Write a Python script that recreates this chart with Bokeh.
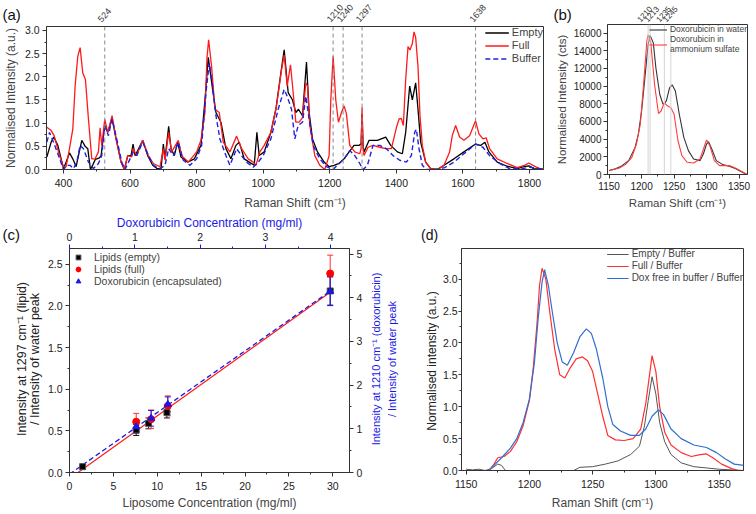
import math
import numpy as np
from bokeh.plotting import figure
from bokeh.layouts import column, row
from bokeh.models import (Range1d, LinearAxis, Span, Label, Whisker, ColumnDataSource,
                          SingleIntervalTicker, TeeHead, PrintfTickFormatter)
from bokeh.embed import file_html
from bokeh.resources import INLINE

FONT = "Liberation Sans"

# ---------------- (a) Raman spectra ----------------
a_peaks = [524, 1210, 1240, 1297, 1638]
empty_x = [350, 363, 371, 383, 393, 400, 408, 418, 428, 438, 445, 455, 465, 473, 481,
           488, 496, 508, 513, 524, 533, 546, 558, 573, 583, 593, 603, 609, 615, 623,
           638, 653, 668, 681, 693, 700, 705, 716, 723, 733, 743, 753, 773, 793, 813,
           825, 835, 848, 858, 873, 888, 903, 918, 928, 943, 958, 973, 981, 988, 1003,
           1023, 1038, 1053, 1063, 1075, 1088, 1098, 1106, 1118, 1130, 1138, 1148, 1163, 1183, 1198,
           1213, 1228, 1243, 1258, 1273, 1288, 1294, 1297, 1300, 1303, 1318, 1343, 1368, 1383, 1403,
           1418, 1428, 1440, 1448, 1458, 1465, 1473, 1488, 1503, 1523, 1543, 1573, 1603, 1638, 1653,
           1666, 1678, 1703, 1733, 1763, 1783, 1798, 1813, 1850]
empty_y = [0.27, 0.59, 0.70, 0.52, 0.23, 0.02, 0.16, 0.36, 0.23, 0.06, 0.30, 0.63, 0.50, 0.45, 0.0,
           0.10, 0.22, 0.25, 0.30, 0.95, 0.80, 1.10, 0.66, 0.16, 0.0, 0.30, 0.30, 0.55, 0.30, 0.41,
           0.63, 0.30, 0.09, 0.02, 0.02, 0.55, 0.23, 0.93, 0.45, 0.30, 0.59, 0.27, 0.16, 0.23, 0.52,
           1.5, 2.42, 1.73, 1.23, 1.02, 0.45, 0.23, 0.52, 0.59, 0.23, 0.16, 0.09, 0.80, 0.30, 0.38,
           0.8, 1.3, 2.08, 2.58, 1.66, 1.5, 1.23, 1.3, 1.16, 2.32, 1.23, 0.66, 0.38, 0.16, 0.06,
           0.09, 0.13, 0.23, 0.38, 0.52, 0.52, 0.55, 1.2, 0.5, 0.38, 0.63, 0.63, 0.70, 0.52, 0.38,
           0.34, 0.8, 1.8, 1.5, 1.87, 1.3, 0.59, 0.16, 0.02, 0.0, 0.09, 0.23, 0.38, 0.55, 0.52,
           0.59, 0.38, 0.16, 0.07, 0.02, 0.06, 0.08, 0.02, 0.0]
full_x = [350, 363, 372, 385, 395, 400, 408, 418, 428, 435, 443, 450, 458, 466, 475,
          485, 495, 505, 510, 515, 524, 533, 546, 558, 573, 583, 593, 605, 609, 620,
          638, 655, 670, 690, 700, 705, 716, 725, 745, 755, 775, 800, 813, 825, 831,
          836, 845, 855, 868, 880, 900, 920, 935, 955, 970, 978, 990, 1003, 1023, 1040,
          1055, 1063, 1072, 1082, 1090, 1098, 1108, 1118, 1128, 1133, 1140, 1155, 1170, 1185, 1198,
          1203, 1210, 1218, 1226, 1235, 1243, 1250, 1260, 1275, 1290, 1294, 1297, 1300, 1303, 1315,
          1330, 1350, 1368, 1385, 1400, 1408, 1415, 1421, 1428, 1435, 1441, 1448, 1453, 1458, 1465,
          1471, 1478, 1488, 1503, 1523, 1543, 1560, 1568, 1578, 1590, 1603, 1620, 1638, 1648, 1660,
          1670, 1680, 1703, 1733, 1763, 1785, 1798, 1810, 1830, 1850]
full_y = [0.91, 0.84, 0.73, 0.38, 0.16, 0.06, 0.06, 0.45, 0.87, 1.8, 2.44, 2.63, 2.08, 1.94, 1.09,
          0.23, 0.23, 0.38, 0.9, 0.52, 1.08, 0.8, 1.16, 0.66, 0.16, 0.0, 0.3, 0.27, 0.45, 0.3,
          0.63, 0.3, 0.13, 0.06, 0.45, 0.2, 0.8, 0.38, 0.63, 0.3, 0.16, 0.38, 0.63, 1.23, 2.4,
          2.8, 2.22, 1.3, 1.23, 0.59, 0.38, 0.72, 0.45, 0.23, 0.16, 0.09, 0.38, 0.52, 0.8, 1.37,
          2.15, 2.47, 1.8, 2.26, 1.66, 1.02, 1.02, 1.12, 1.87, 1.8, 0.95, 0.3, 0.09, 0.0, 0.3,
          1.5, 2.44, 1.5, 1.02, 1.23, 1.37, 1.2, 0.52, 0.38, 0.34, 0.45, 1.34, 0.45, 0.3, 0.48,
          0.52, 0.48, 0.45, 0.45, 0.9, 1.09, 1.1, 0.95, 1.94, 2.65, 2.58, 2.72, 2.97, 2.85, 2.22,
          1.16, 0.52, 0.16, 0.02, 0.0, 0.09, 0.38, 0.73, 0.95, 0.7, 0.63, 0.73, 1.05, 0.77, 0.66,
          0.68, 0.45, 0.23, 0.13, 0.04, 0.09, 0.14, 0.09, 0.02, 0.0]
buffer_x = [350, 358, 370, 385, 400, 410, 420, 430, 440, 450, 460, 475, 490, 505, 515,
            524, 535, 546, 560, 575, 585, 600, 610, 620, 638, 655, 670, 690, 705, 716,
            730, 745, 760, 780, 800, 815, 828, 838, 848, 858, 870, 888, 900, 920, 935,
            950, 970, 985, 1000, 1023, 1045, 1063, 1072, 1085, 1095, 1105, 1118, 1128, 1138, 1150,
            1170, 1190, 1210, 1228, 1243, 1260, 1275, 1290, 1300, 1313, 1330, 1350, 1370, 1390, 1410,
            1430, 1445, 1455, 1460, 1468, 1478, 1490, 1520, 1545, 1573, 1603, 1638, 1660, 1680, 1710,
            1740, 1780, 1800, 1850]
buffer_y = [0.59, 0.8, 0.59, 0.3, 0.0, 0.09, 0.09, 0.02, 0.16, 0.52, 0.45, 0.16, 0.02, 0.13, 0.3,
            0.95, 0.73, 1.09, 0.66, 0.16, 0.0, 0.23, 0.38, 0.3, 0.59, 0.3, 0.09, 0.02, 0.09, 0.45,
            0.3, 0.59, 0.2, 0.09, 0.23, 0.52, 1.66, 2.3, 1.8, 1.16, 0.66, 0.3, 0.09, 0.45, 0.3,
            0.16, 0.05, 0.16, 0.3, 0.66, 1.3, 1.73, 1.58, 1.3, 0.66, 0.95, 1.02, 1.58, 1.09, 0.52,
            0.23, 0.06, 0.0, 0.13, 0.23, 0.41, 0.3, 0.13, 0.0, 0.09, 0.52, 0.52, 0.45, 0.3, 0.2,
            0.16, 0.3, 0.8, 0.87, 0.45, 0.09, 0.0, 0.0, 0.04, 0.16, 0.34, 0.55, 0.48, 0.3, 0.13,
            0.02, 0.02, 0.05, 0.0]

# ---------------- (b) doxorubicin spectra ----------------
b_peaks = [1210, 1213, 1235, 1245]
b_peak_label_shift = [-2, 3, 0, 0]   # px, to separate crowded labels
water_x = [1150, 1160, 1170, 1180, 1190, 1195, 1200, 1205, 1210, 1213, 1218, 1222, 1228, 1233, 1238,
           1243, 1247, 1252, 1258, 1265, 1272, 1280, 1290, 1295, 1300, 1303, 1308, 1315, 1325, 1335,
           1345, 1355, 1362]
water_y = [450, 640, 1000, 1570, 3070, 4570, 7190, 10900, 14700, 15750, 14900, 12060, 9060, 7940, 8310,
           9800, 10150, 9440, 6820, 4200, 2700, 1760, 1570, 2320, 3450, 3700, 2880, 1570, 1120, 940,
           640, 260, 0]
amm_x = [1150, 1165, 1175, 1185, 1192, 1198, 1203, 1208, 1210, 1214, 1220, 1226, 1230, 1235, 1240,
         1245, 1250, 1256, 1262, 1270, 1280, 1290, 1296, 1300, 1305, 1312, 1320, 1335, 1345, 1355, 1362]
amm_y = [450, 700, 1120, 1950, 3450, 5690, 10190, 15060, 15800, 15000, 10190, 6900, 7190, 8130, 7750,
         7570, 6820, 3820, 2130, 1390, 1310, 1760, 3070, 3900, 3260, 1570, 1010, 1010, 700, 300, 0]

# ---------------- (c) calibration ----------------
conc_empty = [1.5, 7.6, 9.0, 11.1, 29.7]
int_empty = [0.07, 0.51, 0.59, 0.72, 2.18]
err_empty = [0.03, 0.065, 0.065, 0.065, 0.17]
conc_full = [7.6, 9.3, 11.2, 29.7]
int_full = [0.61, 0.64, 0.80, 2.39]
err_full = [0.10, 0.11, 0.12, 0.22]
conc_dox = [7.6, 9.3, 11.2, 29.7]
int_dox = [1.05, 1.24, 1.56, 4.15]
err_dox = [0.15, 0.18, 0.17, 0.33]
lipo_per_dox = 7.44            # liposome mg/ml per doxorubicin mg/ml (top axis)
right_per_left = 1.0 / 0.5247  # right axis units per left axis unit

# ---------------- (d) ratio spectra ----------------
d_empty_x = [1150, 1155, 1160, 1165, 1170, 1175, 1178, 1181, 1190, 1200, 1220, 1235, 1240, 1250, 1260,
             1270, 1280, 1287, 1291, 1294, 1297, 1300, 1303, 1307, 1312, 1320, 1330, 1340, 1350, 1360, 1370]
d_empty_y = [0.02, 0.01, 0.02, 0.0, 0.03, 0.1, 0.08, 0.0, 0.0, 0.0, 0.0, 0.0, 0.05, 0.06, 0.1,
             0.15, 0.25, 0.38, 0.7, 1.1, 1.47, 1.2, 0.75, 0.45, 0.25, 0.12, 0.06, 0.04, 0.02, 0.01, 0.0]
d_full_x = [1150, 1168, 1172, 1175, 1180, 1185, 1190, 1195, 1200, 1203, 1206, 1208, 1210, 1213, 1216,
            1220, 1224, 1228, 1232, 1237, 1242, 1246, 1250, 1254, 1258, 1262, 1268, 1275, 1282, 1288,
            1292, 1295, 1297, 1300, 1303, 1307, 1312, 1320, 1328, 1335, 1340, 1345, 1352, 1360, 1365, 1370]
d_full_y = [0.0, 0.0, 0.1, 0.2, 0.22, 0.3, 0.45, 0.7, 1.1, 1.6, 2.3, 2.9, 3.17, 3.0, 2.5,
            1.9, 1.5, 1.45, 1.6, 1.75, 1.78, 1.72, 1.55, 1.2, 0.85, 0.55, 0.48, 0.47, 0.5, 0.65,
            1.05, 1.5, 1.8, 1.55, 1.0, 0.6, 0.4, 0.28, 0.22, 0.25, 0.26, 0.2, 0.1, 0.03, 0.0, 0.0]
d_dox_x = [1150, 1168, 1172, 1178, 1185, 1190, 1195, 1200, 1204, 1207, 1210, 1212, 1215, 1218, 1222,
           1226, 1230, 1235, 1240, 1245, 1249, 1253, 1258, 1262, 1266, 1272, 1280, 1287, 1292, 1297,
           1302, 1306, 1312, 1320, 1330, 1340, 1348, 1355, 1362, 1370]
d_dox_y = [0.0, 0.0, 0.08, 0.2, 0.35, 0.5, 0.75, 1.12, 1.7, 2.4, 2.95, 3.15, 2.9, 2.5, 2.0,
           1.7, 1.65, 1.85, 2.1, 2.22, 2.15, 1.9, 1.45, 1.0, 0.72, 0.62, 0.55, 0.55, 0.65, 0.85,
           0.95, 0.88, 0.65, 0.5, 0.4, 0.36, 0.28, 0.18, 0.1, 0.08]


def no_align(p):
    if "frame_align" in p.properties():
        p.frame_align = False


def style(p, tick_size="10.5px", label_size="12px", label_standoff=4, tick_standoff=4):
    no_align(p)
    p.outline_line_color = "#333333"
    p.xgrid.visible = False
    p.ygrid.visible = False
    for ax in p.axis:
        ax.major_label_text_font = FONT
        ax.axis_label_text_font = FONT
        ax.major_label_text_font_size = tick_size
        ax.axis_label_text_font_size = label_size
        ax.axis_label_text_font_style = "normal"
        ax.major_label_text_color = "#222222"
        ax.major_tick_out = 4
        ax.major_tick_in = 0
        ax.minor_tick_out = 2
        ax.minor_tick_in = 0
        ax.axis_line_color = "#333333"
        ax.major_tick_line_color = "#333333"
        ax.minor_tick_line_color = "#333333"
        ax.major_label_standoff = tick_standoff
        ax.axis_label_standoff = label_standoff


def style_legend(lg, size, gw, gh, spacing=0, padding=2, margin=0, standoff=3):
    lg.border_line_color = None
    lg.background_fill_alpha = 0
    lg.label_text_font = FONT
    lg.label_text_font_size = size
    lg.glyph_width = gw
    lg.glyph_height = gh
    lg.label_height = gh
    lg.spacing = spacing
    lg.padding = padding
    lg.margin = margin
    lg.label_standoff = standoff


def strip(w, h):
    s = figure(width=w, height=h, x_range=Range1d(0, w), y_range=Range1d(0, h),
               output_backend="svg", toolbar_location=None, min_border=0,
               x_axis_location=None, y_axis_location=None)
    no_align(s)
    s.outline_line_color = None
    s.xgrid.visible = False
    s.ygrid.visible = False
    return s


def text(p, x, y, t, size, angle=0.0, color="#111111", align="left", baseline="middle"):
    p.add_layout(Label(x=x, y=y, text=t, angle=angle, text_font=FONT, text_font_size=size,
                       text_color=color, text_align=align, text_baseline=baseline))


# ---------------- layout constants (pixels) ----------------
S1_H = 23
A_W, A_H, A_L, A_R, A_T, A_B = 552, 189, 45, 9, 3, 41
B_W, B_H, B_L, B_R, B_T, B_B = 204, 189, 49, 9, 1, 38
R2_H = 300
CL_W = 44
C_W, C_L, C_R, C_T, C_B = 321, 22, 16, 34, 39
CR_W = 35
DL_W = 39
D_W, D_L, D_R, D_T, D_B = 317, 19, 13, 36, 39
XA0, XA1 = 349, 1842
XB0, XB1 = 1147.5, 1363
PEAK_ANGLE = 0.85

# ---- figure (a)
pa = figure(width=A_W, height=A_H, x_range=Range1d(XA0, XA1), y_range=Range1d(0, 3.085),
            output_backend="svg", toolbar_location=None,
            min_border_left=A_L, min_border_right=A_R, min_border_top=A_T, min_border_bottom=A_B)
pa.xaxis.ticker = SingleIntervalTicker(interval=200, num_minor_ticks=2)
pa.yaxis.ticker = SingleIntervalTicker(interval=0.5, num_minor_ticks=2)
pa.yaxis.formatter = PrintfTickFormatter(format="%.1f")
pa.xaxis.axis_label = "Raman Shift (cm⁻¹)"
pa.yaxis.axis_label = "Normalised Intensity (a.u.)"
style(pa, label_standoff=6, tick_standoff=5)
pa.yaxis.axis_label_standoff = 4
pa.yaxis.major_label_standoff = 3
for v in a_peaks:
    pa.add_layout(Span(location=v, dimension="height", line_color="#8a8a8a",
                       line_dash="4 3", line_width=1))
pa.line(empty_x, empty_y, color="black", line_width=1.3, legend_label="Empty")
pa.line(full_x, full_y, color="#ff1a1a", line_width=1.3, legend_label="Full")
pa.line(buffer_x, buffer_y, color="#2020e0", line_width=1.4, line_dash="5 3", legend_label="Buffer")
pa.legend.location = "top_right"
style_legend(pa.legend, "11px", 24, 11, spacing=1, padding=1)

# ---- figure (b)
pb = figure(width=B_W, height=B_H, x_range=Range1d(XB0, XB1), y_range=Range1d(0, 16980),
            output_backend="svg", toolbar_location=None,
            min_border_left=B_L, min_border_right=B_R, min_border_top=B_T, min_border_bottom=B_B)
pb.xaxis.ticker = SingleIntervalTicker(interval=50, num_minor_ticks=2)
pb.yaxis.ticker = SingleIntervalTicker(interval=2000, num_minor_ticks=2)
pb.xaxis.axis_label = "Raman Shift (cm⁻¹)"
pb.yaxis.axis_label = "Normalised Intensity (cts)"
style(pb, tick_size="10px", label_size="11.5px", label_standoff=4, tick_standoff=3)
pb.yaxis.axis_label_standoff = 3
pb.yaxis.major_label_standoff = 2
for v in b_peaks:
    pb.add_layout(Span(location=v, dimension="height", line_color="#d4d4d4", line_width=1))
pb.line(water_x, water_y, color="#333333", line_width=1.1, legend_label="Doxorubicin in water")
pb.line(amm_x, amm_y, color="#ff3b3b", line_width=1.1, legend_label="Doxorubicin in\nammonium sulfate")
pb.legend.location = "top_right"
style_legend(pb.legend, "8.5px", 18, 9, spacing=0, padding=1)

# ---- top strip: panel letters and peak labels of (a) and (b)
strip1 = strip(A_W + B_W, S1_H)
a_fw = A_W - A_L - A_R
b_fw = B_W - B_L - B_R
for v in a_peaks:
    sx = A_L + (v - XA0) / (XA1 - XA0) * a_fw - 2
    text(strip1, sx, 0.8, str(v), "9px", angle=PEAK_ANGLE, color="#333333", baseline="bottom")
for v, sh in zip(b_peaks, b_peak_label_shift):
    sx = A_W + B_L + (v - XB0) / (XB1 - XB0) * b_fw + sh - 1
    text(strip1, sx, 0.8, str(v), "8px", angle=PEAK_ANGLE, color="#333333", baseline="bottom")
text(strip1, 2, 9.5, "(a)", "15px")
text(strip1, A_W + 1, 9.5, "(b)", "15px")

# ---- figure (c)
c_xmax, c_ymax = 31.9, 2.69
pc = figure(width=C_W, height=R2_H, x_range=Range1d(0, c_xmax), y_range=Range1d(0, c_ymax),
            output_backend="svg", toolbar_location=None,
            min_border_left=C_L, min_border_right=C_R, min_border_top=C_T, min_border_bottom=C_B)
pc.extra_y_ranges = {"dox_y": Range1d(0, c_ymax * right_per_left)}
pc.extra_x_ranges = {"dox_x": Range1d(0, c_xmax / lipo_per_dox)}
ax_r = LinearAxis(y_range_name="dox_y", ticker=SingleIntervalTicker(interval=1, num_minor_ticks=2))
ax_t = LinearAxis(x_range_name="dox_x", axis_label="Doxorubicin Concentration (mg/ml)",
                  ticker=SingleIntervalTicker(interval=1, num_minor_ticks=2))
pc.add_layout(ax_r, "right")
pc.add_layout(ax_t, "above")
pc.below[0].ticker = SingleIntervalTicker(interval=5, num_minor_ticks=2)
pc.left[0].ticker = SingleIntervalTicker(interval=0.5, num_minor_ticks=2)
pc.left[0].formatter = PrintfTickFormatter(format="%.1f")
pc.below[0].axis_label = "Liposome Concentration (mg/ml)"
style(pc, tick_size="10.5px", label_size="12px", label_standoff=3, tick_standoff=5)
pc.left[0].major_label_standoff = 3
ax_r.major_label_standoff = 3
ax_t.major_label_standoff = 4
ax_t.axis_label_standoff = 0
ax_t.axis_label_text_color = "#1a1ae6"
ax_t.major_tick_line_color = "#1a1ae6"
ax_t.minor_tick_line_color = "#1a1ae6"

ce = np.array(conc_empty)
fit_e = np.polyfit(ce, np.array(int_empty), 1)
fit_d = np.polyfit(np.array(conc_dox), np.array(int_dox), 1)
xs = np.array([0.0, ce.max()])
pc.line(xs, np.polyval(fit_e, xs), color="#ff1a1a", line_width=1.2)
pc.line(xs, np.polyval(fit_d, xs), color="#1a1ae6", line_width=1.3, line_dash="5 3",
        y_range_name="dox_y")


def whisk(xv, yv, ev, color, rng=None):
    yv = np.array(yv)
    ev = np.array(ev)
    src = ColumnDataSource(dict(base=xv, upper=yv + ev, lower=yv - ev))
    kw = {}
    if rng:
        kw["y_range_name"] = rng
    w = Whisker(source=src, base="base", upper="upper", lower="lower", line_color=color,
                line_width=1,
                upper_head=TeeHead(size=6, line_color=color, line_width=1),
                lower_head=TeeHead(size=6, line_color=color, line_width=1), **kw)
    pc.add_layout(w)


whisk(conc_empty, int_empty, err_empty, "#111111")
whisk(conc_full, int_full, err_full, "#ff3030")
whisk(conc_dox, int_dox, err_dox, "#1a1ae6", "dox_y")
pc.scatter(conc_empty, int_empty, marker="square", size=6, color="black",
           line_color="#555555", legend_label="Lipids (empty)")
pc.scatter(conc_full, int_full, marker="circle", size=7, color="#ff0000",
           legend_label="Lipids (full)")
pc.scatter(conc_dox, int_dox, marker="triangle", size=7, color="#1a1ae6",
           y_range_name="dox_y", legend_label="Doxorubicin (encapsulated)")
pc.legend.location = "top_left"
style_legend(pc.legend, "10.5px", 12, 12, spacing=0, padding=2, margin=3, standoff=10)

# ---- strips beside (c): panel letter and axis titles
c_mid = C_B + (R2_H - C_T - C_B) / 2 + 1
strip_cl = strip(CL_W, R2_H)
text(strip_cl, 2, R2_H - 21.5, "(c)", "15px")
text(strip_cl, 21.5, c_mid, "Intensity at 1297 cm⁻¹ (lipid)", "12.5px", angle=math.pi / 2,
     color="#222222", align="center")
text(strip_cl, 34, c_mid, "/ Intensity of water peak", "12.5px", angle=math.pi / 2,
     color="#222222", align="center")
strip_cr = strip(CR_W, R2_H)
text(strip_cr, 10, c_mid, "Intensity at 1210 cm⁻¹ (doxorubicin)", "11px", angle=math.pi / 2,
     color="#1a1ae6", align="center")
text(strip_cr, 26, c_mid, "/ Intensity of water peak", "11px", angle=math.pi / 2,
     color="#1a1ae6", align="center")

# ---- figure (d)
pd_ = figure(width=D_W, height=R2_H, x_range=Range1d(1146.3, 1369.3), y_range=Range1d(0, 3.48),
             output_backend="svg", toolbar_location=None,
             min_border_left=D_L, min_border_right=D_R, min_border_top=D_T, min_border_bottom=D_B)
pd_.xaxis.ticker = SingleIntervalTicker(interval=50, num_minor_ticks=2)
pd_.yaxis.ticker = SingleIntervalTicker(interval=0.5, num_minor_ticks=2)
pd_.yaxis.formatter = PrintfTickFormatter(format="%.1f")
pd_.xaxis.axis_label = "Raman Shift (cm⁻¹)"
style(pd_, tick_size="10.5px", label_size="12px", label_standoff=5, tick_standoff=5)
pd_.yaxis.major_tick_out = 3
pd_.yaxis.major_label_standoff = 1
pd_.line(d_empty_x, d_empty_y, color="#555555", line_width=1, legend_label="Empty / Buffer")
pd_.line(d_full_x, d_full_y, color="#ff3030", line_width=1.2, legend_label="Full / Buffer")
pd_.line(d_dox_x, d_dox_y, color="#2f6fd0", line_width=1.2, legend_label="Dox free in buffer / Buffer")
pd_.legend.location = "top_right"
style_legend(pd_.legend, "10px", 22, 10, spacing=1, padding=2)

d_mid = D_B + (R2_H - D_T - D_B) / 2
strip_dl = strip(DL_W, R2_H)
text(strip_dl, 20.5, R2_H - 22, "(d)", "14px")
text(strip_dl, 31, d_mid, "Normalised intensity (a.u.)", "12px", angle=math.pi / 2,
     color="#222222", align="center")

layout = column(strip1, row(pa, pb), row(strip_cl, pc, strip_cr, strip_dl, pd_))
open("out.html", "w").write(file_html(layout, INLINE))
